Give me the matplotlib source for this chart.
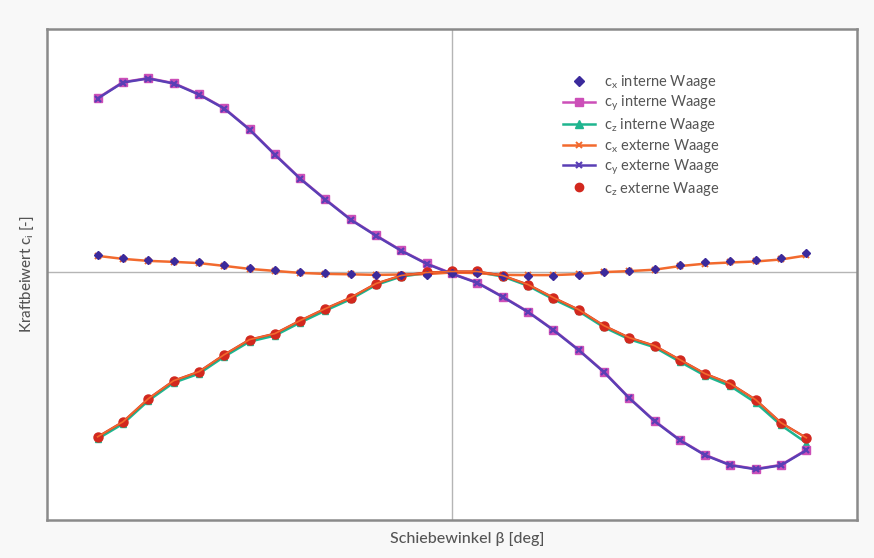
import matplotlib
matplotlib.use("Agg")
import matplotlib.pyplot as plt
from matplotlib.lines import Line2D
import numpy as np

plt.rcParams['font.family'] = ['Lato', 'DejaVu Sans']
plt.rcParams['mathtext.fontset'] = 'custom'
plt.rcParams['mathtext.rm'] = 'Lato'
plt.rcParams['mathtext.it'] = 'Lato'

beta = [-28, -26, -24, -22, -20, -18, -16, -14, -12, -10, -8, -6, -4, -2, 0,
        2, 4, 6, 8, 10, 12, 14, 16, 18, 20, 22, 24, 26, 28]

cx_int = [0.085, 0.070, 0.060, 0.055, 0.050, 0.035, 0.020, 0.010, 0.000, -0.005,
          -0.007, -0.013, -0.012, -0.010, -0.002, -0.005, -0.015, -0.015, -0.015, -0.010,
          0.000, 0.005, 0.017, 0.037, 0.050, 0.057, 0.062, 0.072, 0.095]
cx_ext = [0.083, 0.068, 0.058, 0.053, 0.047, 0.033, 0.018, 0.008, -0.002, -0.007,
          -0.009, -0.012, -0.010, -0.008, 0.000, -0.003, -0.012, -0.013, -0.013, -0.008,
          0.002, 0.007, 0.014, 0.032, 0.044, 0.050, 0.055, 0.065, 0.085]

cy_int = [0.870, 0.950, 0.970, 0.945, 0.890, 0.820, 0.715, 0.590, 0.470, 0.365,
          0.265, 0.185, 0.110, 0.045, -0.005, -0.050, -0.120, -0.195, -0.285, -0.385,
          -0.495, -0.625, -0.740, -0.835, -0.910, -0.960, -0.980, -0.960, -0.885]
cy_ext = [0.868, 0.948, 0.968, 0.943, 0.888, 0.818, 0.713, 0.588, 0.468, 0.363,
          0.263, 0.183, 0.108, 0.043, -0.007, -0.052, -0.122, -0.197, -0.287, -0.387,
          -0.497, -0.627, -0.742, -0.837, -0.912, -0.962, -0.982, -0.962, -0.887]

cz_int = [-0.830, -0.755, -0.640, -0.550, -0.505, -0.420, -0.345, -0.315, -0.250, -0.190,
          -0.133, -0.062, -0.020, -0.003, 0.002, 0.002, -0.020, -0.066, -0.133, -0.193,
          -0.273, -0.333, -0.373, -0.445, -0.515, -0.567, -0.650, -0.762, -0.850]
cz_ext = [-0.820, -0.745, -0.630, -0.540, -0.495, -0.410, -0.335, -0.305, -0.240, -0.180,
          -0.125, -0.055, -0.015, 0.000, 0.005, 0.005, -0.015, -0.060, -0.125, -0.185,
          -0.265, -0.325, -0.365, -0.435, -0.505, -0.555, -0.635, -0.750, -0.825]

labels = [r'c$_\mathregular{x}$ interne Waage', r'c$_\mathregular{y}$ interne Waage',
          r'c$_\mathregular{z}$ interne Waage', r'c$_\mathregular{x}$ externe Waage',
          r'c$_\mathregular{y}$ externe Waage', r'c$_\mathregular{z}$ externe Waage']

c_blue = '#3b2a9c'
c_mag = '#cc4fb8'
c_green = '#1fb58f'
c_orange = '#f26a2e'
c_purple = '#5a3fb5'
c_red = '#d2281e'

fig = plt.figure(figsize=(8.74, 5.58), dpi=100, facecolor='#f8f8f8')
ax = fig.add_axes([47/874, 38/558, 810/874, 491/558])
ax.set_facecolor('white')

ax.axhline(0, color='#b5b5b5', lw=1.0, zorder=1)
ax.axvline(0, color='#b5b5b5', lw=1.0, zorder=1)

lw = 1.8
ms = 5
# cz
ax.plot(beta, cz_int, color=c_green, lw=lw, marker='^', ms=ms, zorder=3)
ax.plot(beta, cz_ext, color=c_red, lw=1.6, marker='o', ms=ms + 1.5, zorder=4)
ax.plot(beta, cz_ext, color=c_orange, lw=1.2, zorder=4.5)
# cy
ax.plot(beta, cy_int, color=c_mag, lw=lw, marker='s', ms=ms + 1, zorder=3)
ax.plot(beta, cy_ext, color=c_purple, lw=lw, marker='x', ms=ms, mew=1.6, zorder=4)
# cx
ax.plot(beta, cx_ext, color=c_orange, lw=lw, marker='x', ms=ms, mew=1.4, zorder=3)
ax.plot(beta, cx_int, color=c_blue, lw=0, marker='D', ms=ms - 0.5, zorder=4)

ax.set_xlim(-32, 32)
ax.set_ylim(-1.235, 1.215)
ax.set_xticks([])
ax.set_yticks([])
for sp in ax.spines.values():
    sp.set_color('#8a8a8a')
    sp.set_linewidth(1.8)

handles = [
    Line2D([], [], color=c_blue, lw=0, marker='D', ms=5),
    Line2D([], [], color=c_mag, lw=1.8, marker='s', ms=6),
    Line2D([], [], color=c_green, lw=1.8, marker='^', ms=6),
    Line2D([], [], color=c_orange, lw=1.8, marker='x', ms=5, mew=1.4),
    Line2D([], [], color=c_purple, lw=1.8, marker='x', ms=5, mew=1.6),
    Line2D([], [], color=c_red, lw=0, marker='o', ms=6),
]
leg = ax.legend(handles, labels, loc='upper left', bbox_to_anchor=(0.621, 0.937),
                frameon=False, fontsize=10.5, handlelength=2.2, labelspacing=0.19,
                handletextpad=0.6, labelcolor='#555555')

ax.set_xlabel('Schiebewinkel β [deg]', fontsize=11.5, color='#555555', labelpad=7,
              fontweight='medium')
ax.xaxis.set_label_coords(0.5185, -0.025, transform=ax.transAxes)
ax.xaxis.label.set_verticalalignment('top')
ax.set_ylabel(r'Kraftbeiwert c$_\mathregular{i}$ [-]', fontsize=10.8, color='#555555',
              labelpad=8, fontweight='medium')

fig.savefig('out.png', dpi=100, facecolor=fig.get_facecolor())
